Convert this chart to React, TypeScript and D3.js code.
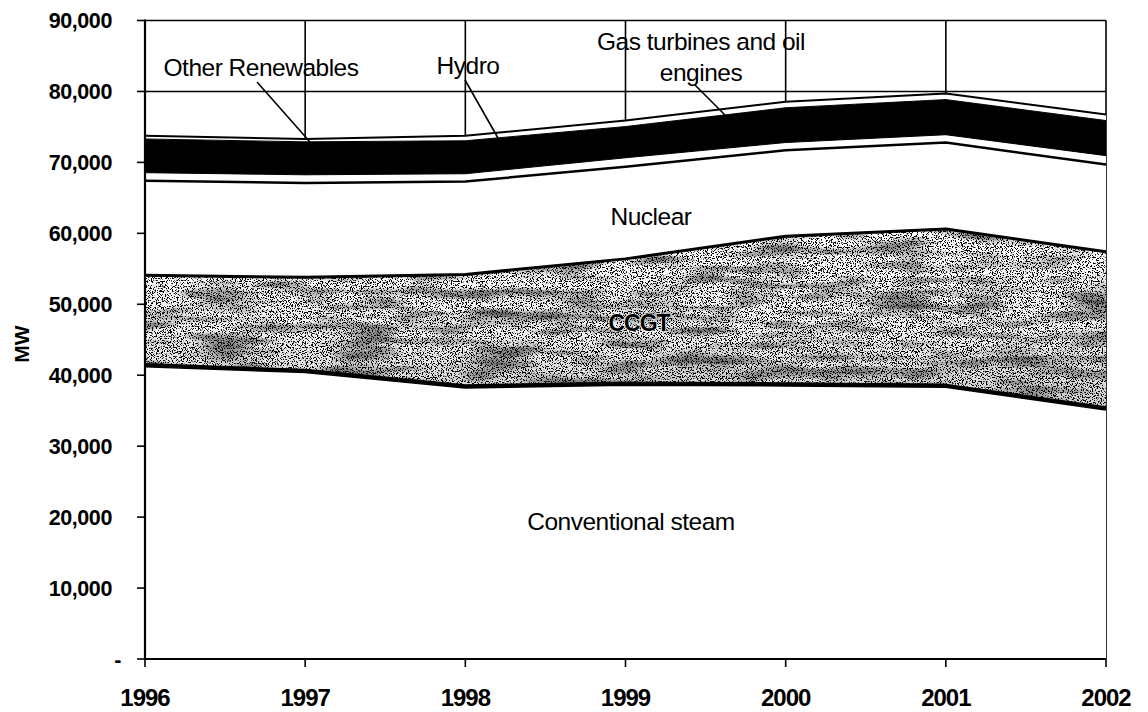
import React from "react";
import * as d3 from "d3";

const years = [1996, 1997, 1998, 1999, 2000, 2001, 2002];
const conventionalSteam = [41400, 40600, 38400, 38800, 38700, 38500, 35300];
const ccgt = [12700, 13200, 15800, 17600, 20900, 22100, 22100];
const nuclear = [13300, 13300, 13100, 13000, 12100, 12200, 12300];
const gasTurbinesOilEngines = [1150, 1150, 1100, 1250, 1100, 1100, 1250];
const hydro = [4750, 4650, 4650, 4400, 4900, 4950, 4950];
const otherRenewables = [450, 400, 700, 850, 850, 850, 850];
const yTicks = [0, 10000, 20000, 30000, 40000, 50000, 60000, 70000, 80000, 90000];

const W = 1148;
const H = 712;
const X0 = 145;
const X1 = 1106;
const Y0 = 659;
const Y1 = 20.5;

const keys = ["conv", "ccgt", "nuclear", "gas", "hydro", "other"];

export default function App() {
  const rows = years.map((yr, i) => ({
    year: yr,
    conv: conventionalSteam[i],
    ccgt: ccgt[i],
    nuclear: nuclear[i],
    gas: gasTurbinesOilEngines[i],
    hydro: hydro[i],
    other: otherRenewables[i],
  }));
  const stack = d3.stack<any>().keys(keys);
  const series = stack(rows);

  const x = d3.scaleLinear().domain([1996, 2002]).range([X0, X1]);
  const y = d3.scaleLinear().domain([0, 90000]).range([Y0, Y1]);

  const area = d3
    .area<any>()
    .x((d) => x(d.data.year))
    .y0((d) => y(d[0]))
    .y1((d) => y(d[1]));
  const topLine = d3
    .line<any>()
    .x((d) => x(d.data.year))
    .y((d) => y(d[1]));

  const fills: Record<string, string> = {
    conv: "#ffffff",
    ccgt: "#ffffff",
    nuclear: "#ffffff",
    gas: "#ffffff",
    hydro: "#000000",
    other: "#ffffff",
  };
  const strokeW: Record<string, number> = {
    conv: 4.5,
    ccgt: 3,
    nuclear: 2.5,
    gas: 1,
    hydro: 1,
    other: 2,
  };

  const fmt = (v: number) => (v === 0 ? "-" : d3.format(",")(v));
  const font = "'Liberation Sans', Arial, Helvetica, sans-serif";

  return (
    <svg
      width={W}
      height={H}
      style={{ position: "absolute", left: 0, top: 0, background: "#fff" }}
      fontFamily={font}
    >
      <defs>
        <filter
          id="grain"
          x="0"
          y="0"
          width="100%"
          height="100%"
          colorInterpolationFilters="sRGB"
        >
          <feTurbulence
            type="fractalNoise"
            baseFrequency="0.8"
            numOctaves={3}
            seed={7}
            result="n"
          />
          <feColorMatrix
            in="n"
            type="matrix"
            values="0 0 0 0 0  0 0 0 0 0  0 0 0 0 0  14 0 0 0 -7.5"
            result="a"
          />
          <feComposite in="a" in2="SourceAlpha" operator="in" />
        </filter>
        <filter
          id="grain2"
          x="0"
          y="0"
          width="100%"
          height="100%"
          colorInterpolationFilters="sRGB"
        >
          <feTurbulence
            type="fractalNoise"
            baseFrequency="0.015 0.09"
            numOctaves={2}
            seed={3}
            result="n"
          />
          <feColorMatrix
            in="n"
            type="matrix"
            values="0 0 0 0 0  0 0 0 0 0  0 0 0 0 0  1.4 0 0 0 -0.6"
            result="a"
          />
          <feComposite in="a" in2="SourceAlpha" operator="in" />
        </filter>
        <linearGradient id="ccgtShade" x1="0" y1="0" x2="0" y2="1">
          <stop offset="0" stopColor="#000" stopOpacity="0" />
          <stop offset="0.6" stopColor="#000" stopOpacity="0.06" />
          <stop offset="1" stopColor="#000" stopOpacity="0.2" />
        </linearGradient>
      </defs>

      {/* gridlines */}
      {yTicks
        .filter((t) => t > 0)
        .map((t) => (
          <line
            key={"gy" + t}
            x1={X0}
            x2={X1}
            y1={y(t)}
            y2={y(t)}
            stroke="#000"
            strokeWidth={1.6}
          />
        ))}
      {years
        .filter((yr) => yr > 1996)
        .map((yr) => (
          <line
            key={"gx" + yr}
            x1={x(yr)}
            x2={x(yr)}
            y1={Y1}
            y2={Y0}
            stroke="#000"
            strokeWidth={1.6}
          />
        ))}

      {/* areas */}
      {series.map((s) => (
        <path key={"a" + s.key} d={area(s as any) || ""} fill={fills[s.key]} />
      ))}
      {/* CCGT texture */}
      {series
        .filter((s) => s.key === "ccgt")
        .map((s) => (
          <g key="tex">
            <path d={area(s as any) || ""} fill="url(#ccgtShade)" />
            <path d={area(s as any) || ""} fill="#000" filter="url(#grain2)" />
            <path d={area(s as any) || ""} fill="#000" filter="url(#grain)" />
          </g>
        ))}
      {/* top lines */}
      {series.map((s) => (
        <path
          key={"l" + s.key}
          d={topLine(s as any) || ""}
          fill="none"
          stroke="#000"
          strokeWidth={strokeW[s.key]}
          strokeLinejoin="round"
        />
      ))}

      {/* axes */}
      <line x1={X0} x2={X0} y1={Y1 - 1} y2={Y0 + 1} stroke="#000" strokeWidth={2.2} />
      <line x1={X0} x2={X1} y1={Y0} y2={Y0} stroke="#000" strokeWidth={2.2} />
      {yTicks.map((t) => (
        <g key={"yt" + t}>
          <line x1={X0 - 8} x2={X0} y1={y(t)} y2={y(t)} stroke="#000" strokeWidth={1.6} />
          <text
            x={t === 0 ? 121 : 112}
            y={y(t)}
            dy="0.36em"
            textAnchor="end"
            fontSize={21.5}
            fontWeight="bold"
            letterSpacing={-0.4}
          >
            {fmt(t)}
          </text>
        </g>
      ))}
      {years.map((yr) => (
        <g key={"xt" + yr}>
          <line x1={x(yr)} x2={x(yr)} y1={Y0} y2={Y0 + 8} stroke="#000" strokeWidth={1.6} />
          <text
            x={x(yr)}
            y={706}
            textAnchor="middle"
            fontSize={24}
            fontWeight="bold"
            letterSpacing={-1}
          >
            {yr}
          </text>
        </g>
      ))}
      <text
        transform="translate(29,344) rotate(-90)"
        textAnchor="middle"
        fontSize={21}
        fontWeight="bold"
      >
        MW
      </text>

      {/* series labels */}
      <g fontSize={24.5} letterSpacing={-0.5}>
        <text x={261} y={76} textAnchor="middle">Other Renewables</text>
        <text x={468} y={74} textAnchor="middle">Hydro</text>
        <text x={701} y={50} textAnchor="middle">Gas turbines and oil</text>
        <text x={701} y={81} textAnchor="middle">engines</text>
        <text x={651} y={225} textAnchor="middle">Nuclear</text>
        <text x={631} y={530} textAnchor="middle">Conventional steam</text>
        <text
          x={639}
          y={331}
          textAnchor="middle"
          fontWeight="bold"
          fontSize={23}
          letterSpacing={-1}
          stroke="#fff"
          strokeWidth={1.2}
          paintOrder="stroke"
        >
          CCGT
        </text>
      </g>
      {/* pointer lines */}
      <line x1={257} y1={82} x2={310} y2={142} stroke="#000" strokeWidth={1.6} />
      <line x1={465} y1={80} x2={498} y2={138} stroke="#000" strokeWidth={1.6} />
      <line x1={695} y1={85} x2={725} y2={115} stroke="#000" strokeWidth={1.6} />
    </svg>
  );
}
